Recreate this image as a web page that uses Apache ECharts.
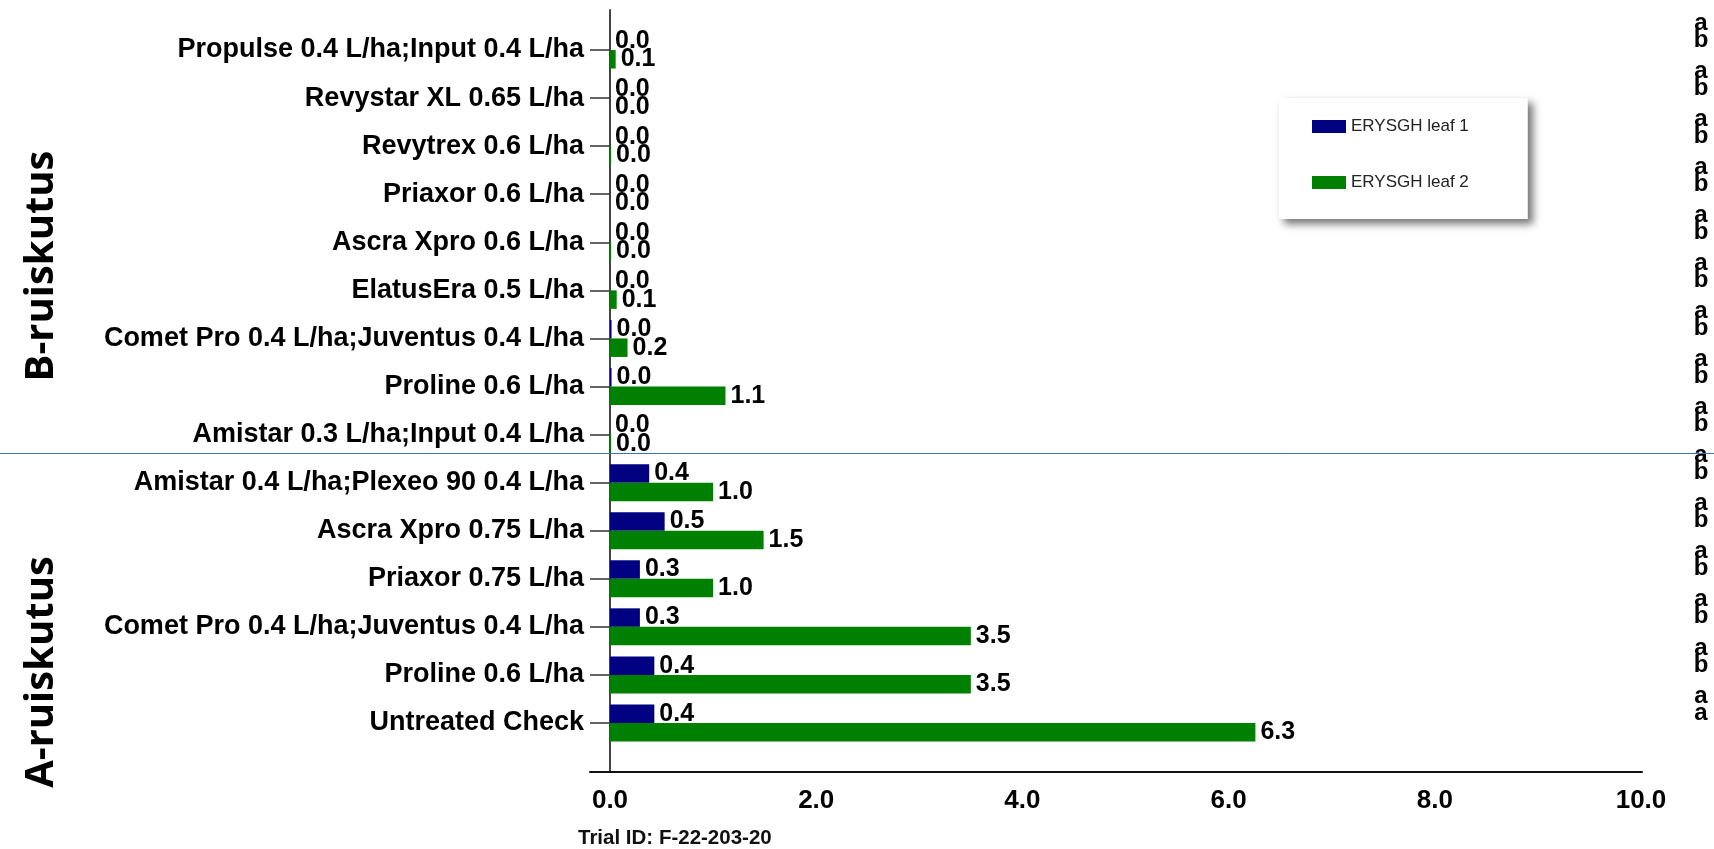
<!DOCTYPE html>
<html>
<head>
<meta charset="utf-8">
<script src="https://cdn.jsdelivr.net/npm/echarts@6/dist/echarts.min.js"></script>
<style>
html,body{margin:0;padding:0;background:#fff;}
#chart{width:1714px;height:849px;}
</style>
</head>
<body>
<div id="chart"></div>
<script>
// Categories, top to bottom (trailing spaces keep repeated names distinct; trimmed on display)
const categories = [
  'Propulse 0.4 L/ha;Input 0.4 L/ha',
  'Revystar XL 0.65 L/ha',
  'Revytrex 0.6 L/ha',
  'Priaxor 0.6 L/ha',
  'Ascra Xpro 0.6 L/ha',
  'ElatusEra 0.5 L/ha',
  'Comet Pro 0.4 L/ha;Juventus 0.4 L/ha',
  'Proline 0.6 L/ha',
  'Amistar 0.3 L/ha;Input 0.4 L/ha',
  'Amistar 0.4 L/ha;Plexeo 90 0.4 L/ha',
  'Ascra Xpro 0.75 L/ha',
  'Priaxor 0.75 L/ha',
  'Comet Pro 0.4 L/ha;Juventus 0.4 L/ha ',
  'Proline 0.6 L/ha ',
  'Untreated Check'
];
const leaf1 = [0, 0, 0, 0, 0, 0, 0.015, 0.015, 0, 0.38, 0.53, 0.29, 0.29, 0.43, 0.43];
const leaf2 = [0.055, 0, 0.01, 0, 0.01, 0.065, 0.17, 1.12, 0.01, 1.0, 1.49, 1.0, 3.5, 3.5, 6.26];
const letters1 = ['a','a','a','a','a','a','a','a','a','a','a','a','a','a','a'];
const letters2 = ['b','b','b','b','b','b','b','b','b','b','b','b','b','b','a'];
const seriesNames = ['ERYSGH leaf 1', 'ERYSGH leaf 2'];
const xTicks = [0, 2, 4, 6, 8, 10];
const groupTitles = ['B-ruiskutus', 'A-ruiskutus'];
const footnote = 'Trial ID: F-22-203-20';

const FONT = "'Liberation Sans', Arial, sans-serif";
const chart = echarts.init(document.getElementById('chart'));

const valLabel = {
  show: true, position: 'right', distance: 5,
  fontFamily: FONT, fontWeight: 'bold', fontSize: 25, color: '#000',
  formatter: p => p.value.toFixed(1)
};

const option = {
  animation: false,
  backgroundColor: '#fff',
  title: {
    text: footnote, left: 578, top: 828, padding: 0,
    textStyle: { fontFamily: FONT, fontWeight: 'bold', fontSize: 20.5, color: '#111' }
  },
  legend: {
    data: seriesNames,
    orient: 'vertical',
    left: 1279, top: 98,
    padding: [20, 59, 28, 33],
    itemWidth: 34, itemHeight: 13, itemGap: 39,
    backgroundColor: '#fff',
    shadowBlur: 8, shadowColor: 'rgba(0,0,0,0.55)', shadowOffsetX: 5, shadowOffsetY: 5,
    textStyle: { fontFamily: FONT, fontSize: 17, color: '#222', lineHeight: 13 },
    icon: 'rect'
  },
  grid: [
    { left: 610, right: 73, top: 26, bottom: 102 },
    { left: 610, right: 73, top: 10, bottom: 77 },
    { left: 590, right: 72, top: 10, bottom: 77 }
  ],
  xAxis: [
    { gridIndex: 0, type: 'value', min: 0, max: 10, show: false },
    { gridIndex: 1, type: 'value', min: xTicks[0], max: xTicks[xTicks.length - 1], interval: 2,
      axisLine: { show: false }, axisTick: { show: false }, splitLine: { show: false },
      axisLabel: { margin: 16, fontFamily: FONT, fontWeight: 'bold', fontSize: 26, color: '#000',
        formatter: v => v.toFixed(1) } },
    { gridIndex: 2, type: 'value', min: 0, max: 1,
      axisLine: { show: true, lineStyle: { color: '#111', width: 2 } },
      axisTick: { show: false }, axisLabel: { show: false }, splitLine: { show: false } }
  ],
  yAxis: [
    { gridIndex: 0, type: 'category', data: categories, inverse: true,
      axisLine: { show: false },
      axisTick: { show: true, alignWithLabel: true, length: 20, lineStyle: { color: '#333', width: 1.5 } },
      axisLabel: { margin: 26, fontFamily: FONT, fontWeight: 'bold', fontSize: 27, color: '#000',
        formatter: v => v.trim() } },
    { gridIndex: 1, type: 'value', min: 0, max: 1,
      axisLine: { show: true, lineStyle: { color: '#444', width: 2 } },
      axisTick: { show: false }, axisLabel: { show: false }, splitLine: { show: false } },
    { gridIndex: 2, type: 'value', show: false }
  ],
  series: [
    { name: seriesNames[0], type: 'bar', xAxisIndex: 0, yAxisIndex: 0, data: leaf1,
      barWidth: 18.5, barGap: '0%', itemStyle: { color: '#000080' }, label: valLabel },
    { name: seriesNames[1], type: 'bar', xAxisIndex: 0, yAxisIndex: 0, data: leaf2,
      barWidth: 18.5, barGap: '0%', itemStyle: { color: '#008000' }, label: valLabel },
    { name: 'letters', type: 'custom', xAxisIndex: 0, yAxisIndex: 0,
      data: categories.map((c, i) => [0, i]),
      clip: false,
      renderItem: (params, api) => {
        const y = api.coord([0, api.value(1)])[1];
        const i = params.dataIndex;
        const st = { fontFamily: FONT, fontWeight: 'bold', fontSize: 24, fill: '#000',
          textAlign: 'center', textVerticalAlign: 'middle' };
        return { type: 'group', children: [
          { type: 'text', x: 1701, y: y - 27, style: Object.assign({ text: letters1[i] }, st) },
          { type: 'text', x: 1701, y: y - 10, style: Object.assign({ text: letters2[i] }, st) }
        ]};
      }
    }
  ],
  graphic: [
    { type: 'line', shape: { x1: 0, y1: 453.5, x2: 1714, y2: 453.5 },
      style: { stroke: '#4472C4', lineWidth: 1 }, z: 10 },
    { type: 'text', x: 42, y: 266, rotation: Math.PI / 2,
      style: { text: groupTitles[0], fontFamily: "'Open Sans', sans-serif", fontWeight: 'bold', fontSize: 40,
        fill: '#000', textAlign: 'center', textVerticalAlign: 'middle' } },
    { type: 'text', x: 42, y: 672, rotation: Math.PI / 2,
      style: { text: groupTitles[1], fontFamily: "'Open Sans', sans-serif", fontWeight: 'bold', fontSize: 40,
        fill: '#000', textAlign: 'center', textVerticalAlign: 'middle' } }
  ]
};
chart.setOption(option);
</script>
</body>
</html>
